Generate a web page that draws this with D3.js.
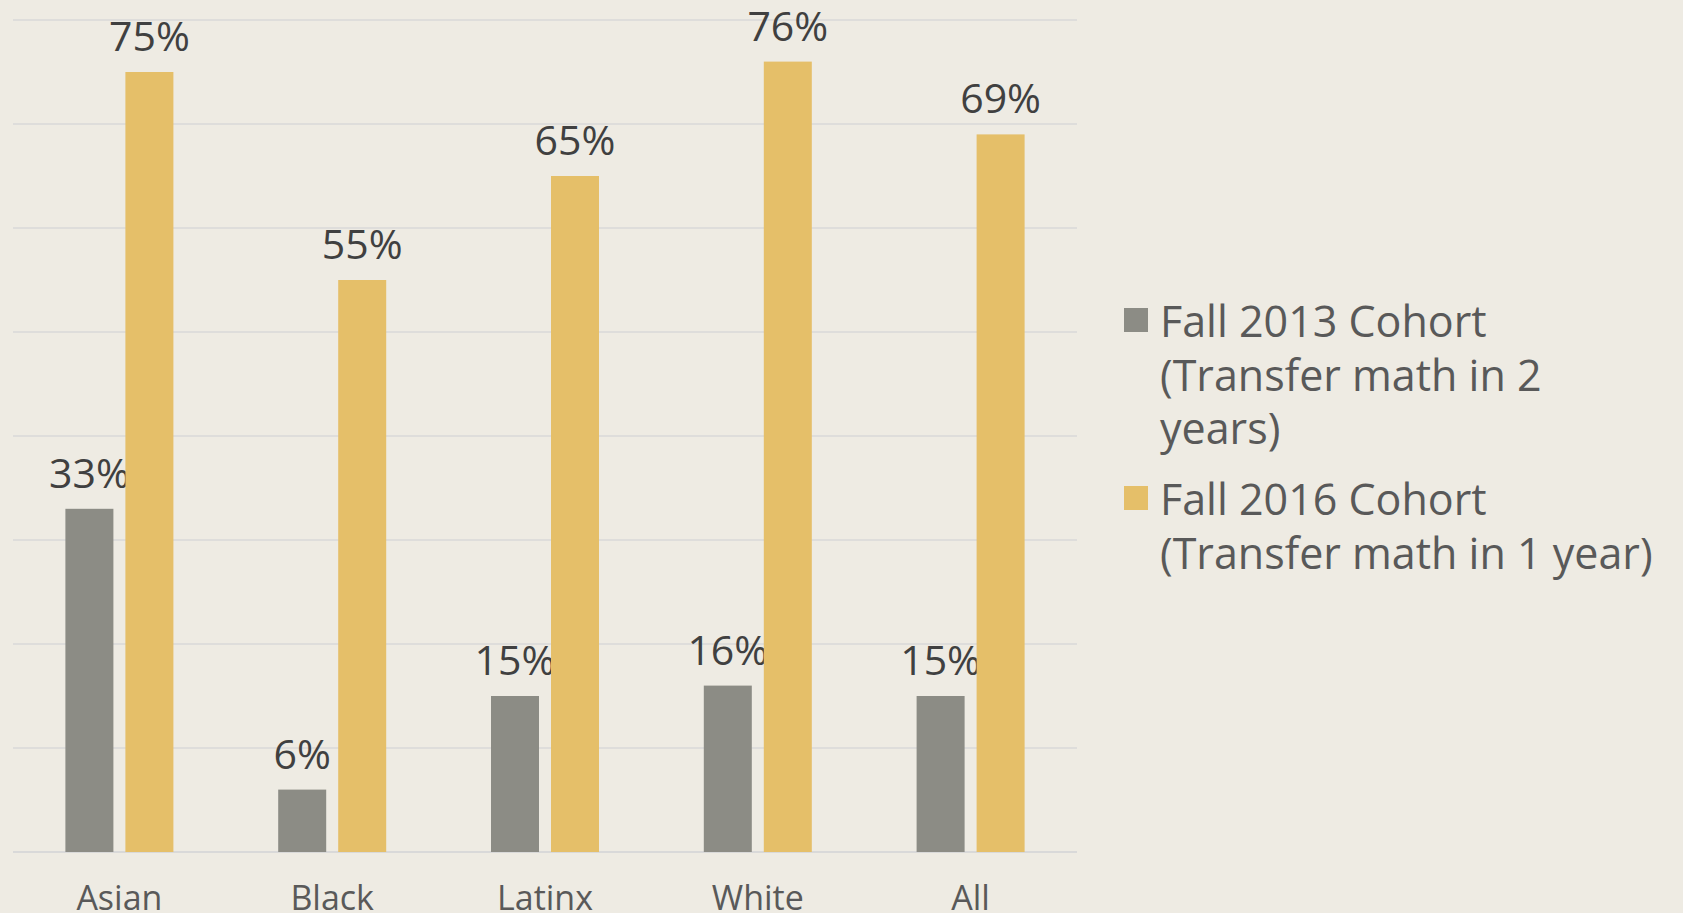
<!DOCTYPE html>
<html>
<head>
<meta charset="utf-8">
<script src="https://cdn.jsdelivr.net/npm/d3@7"></script>
<style>
  html, body { margin: 0; padding: 0; background: #eeebe3; }
  svg { display: block; font-family: "Open Sans", sans-serif; }
</style>
</head>
<body>
<div class="bar-graph"></div>
<script>
// chart data
var categories = ["Asian", "Black", "Latinx", "White", "All"];
var seriesNames = ["Fall 2013 Cohort", "Fall 2016 Cohort"];
var fall2013 = [0.33, 0.06, 0.15, 0.16, 0.15];
var fall2016 = [0.75, 0.55, 0.65, 0.76, 0.69];
var legendLines = [
  ["Fall 2013 Cohort", "(Transfer math in 2", "years)"],
  ["Fall 2016 Cohort", "(Transfer math in 1 year)"]
];
var yTicks = [0, 0.1, 0.2, 0.3, 0.4, 0.5, 0.6, 0.7, 0.8];

var width = 1683, height = 913;
var color = ["#8c8c85", "#e5bf69"];

var svg = d3.select(".bar-graph").append("svg")
  .attr("width", width).attr("height", height);

svg.append("rect").attr("width", width).attr("height", height).attr("fill", "#eeebe3");

// scales
var x0 = d3.scaleBand().domain(categories).range([13, 1077]);
var groupW = 108;
var x1 = d3.scaleBand().domain(seriesNames)
  .range([x0.bandwidth() / 2 - groupW / 2, x0.bandwidth() / 2 + groupW / 2])
  .paddingInner(0.2);
var y = d3.scaleLinear().domain([0, 0.8]).range([852, 20]);

// gridlines
svg.append("g").selectAll("line")
  .data(yTicks)
  .enter().append("line")
  .attr("x1", 13).attr("x2", 1077)
  .attr("y1", function (d) { return y(d); })
  .attr("y2", function (d) { return y(d); })
  .attr("stroke", "#d9d9d9")
  .attr("stroke-width", function (d) { return d === 0 ? 2 : 1.5; });

// bars + labels, one series at a time
var fmt = d3.format(".0%");
[fall2013, fall2016].forEach(function (vals, s) {
  var g = svg.append("g");
  g.selectAll("rect")
    .data(vals)
    .enter().append("rect")
    .attr("x", function (d, i) { return x0(categories[i]) + x1(seriesNames[s]); })
    .attr("y", function (d) { return y(d); })
    .attr("width", x1.bandwidth())
    .attr("height", function (d) { return y(0) - y(d); })
    .attr("fill", color[s]);
  g.selectAll("text")
    .data(vals)
    .enter().append("text")
    .attr("x", function (d, i) { return x0(categories[i]) + x1(seriesNames[s]) + x1.bandwidth() / 2; })
    .attr("y", function (d) { return y(d) - 21; })
    .attr("text-anchor", "middle")
    .attr("font-size", 41)
    .attr("fill", "#404040")
    .text(function (d) { return fmt(d); });
});

// category labels
svg.append("g").selectAll("text")
  .data(categories)
  .enter().append("text")
  .attr("x", function (d) { return x0(d) + x0.bandwidth() / 2; })
  .attr("y", 910)
  .attr("text-anchor", "middle")
  .attr("font-size", 34)
  .attr("fill", "#595959")
  .text(function (d) { return d; });

// legend
var legend = svg.append("g").attr("transform", "translate(1124,0)");
var lineH = 53.5;
var top0 = [337, 515];
legendLines.forEach(function (lines, s) {
  legend.append("rect")
    .attr("x", 0).attr("y", top0[s] - 29)
    .attr("width", 24).attr("height", 24)
    .attr("fill", color[s]);
  legend.append("g").selectAll("text")
    .data(lines)
    .enter().append("text")
    .attr("x", 36)
    .attr("y", function (d, i) { return top0[s] + i * lineH; })
    .attr("font-size", 43)
    .attr("fill", "#595959")
    .text(function (d) { return d; });
});
</script>
</body>
</html>
